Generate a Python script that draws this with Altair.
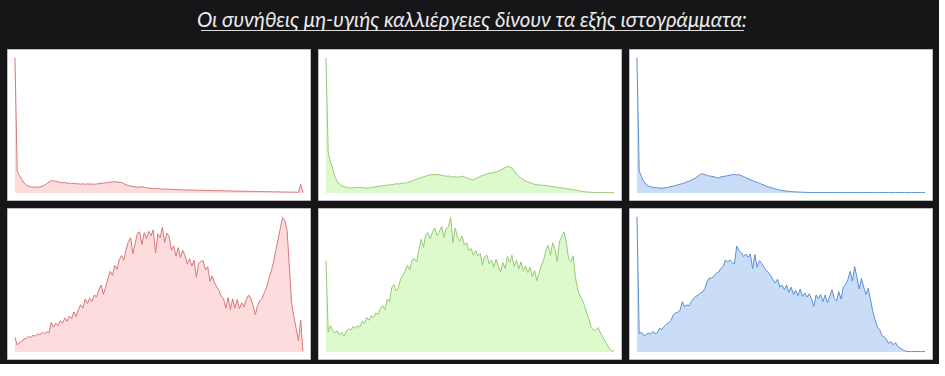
import altair as alt
import pandas as pd

TITLE = "Οι συνήθεις μη-υγιής καλλιέργειες δίνουν τα εξής ιστογράμματα:"

red_top = [100, 16, 13, 10, 7.5, 6, 5, 4.6, 4.4, 4.5,
           4.3, 4.6, 5.0, 5.8, 7.0, 8.2, 9.3, 8.8, 8.9, 8.2,
           8.0, 7.6, 7.9, 7.2, 7.5, 7.0, 7.3, 6.8, 6.9, 6.6,
           6.8, 6.5, 6.9, 6.6, 6.7, 6.5, 6.8, 6.9, 7.2, 7.4,
           7.6, 7.9, 8.0, 8.3, 8.4, 8.2, 8.0, 7.8, 7.0, 6.2,
           5.6, 5.2, 4.9, 4.6, 4.4, 4.3, 4.8, 4.2, 3.9, 3.7,
           3.5, 3.4, 3.3, 3.4, 3.1, 3.0, 2.9, 3.0, 2.8, 2.7,
           2.6, 2.7, 2.5, 2.4, 2.5, 2.3, 2.3, 2.2, 2.3, 2.1,
           2.1, 2.0, 2.1, 2.0, 1.9, 1.9, 2.0, 1.8, 1.8, 1.8,
           1.7, 1.8, 1.7, 1.6, 1.6, 1.7, 1.5, 1.5, 1.5, 1.4,
           1.4, 1.5, 1.3, 1.3, 1.3, 1.2, 1.3, 1.2, 1.1, 1.1,
           1.1, 1.0, 1.1, 1.0, 0.9, 0.9, 1.0, 0.9, 0.8, 0.8,
           0.8, 0.7, 0.8, 0.7, 0.6, 0.6, 6.5, 0.3]

green_top = [100, 30, 23, 18, 12, 8.5, 6.6, 5.4, 4.8, 4.3,
             3.9, 3.8, 3.9, 4.3, 4.1, 4.4, 3.9, 4.0, 3.6, 3.8,
             4.1, 4.4, 4.7, 5.0, 5.2, 5.4, 5.6, 5.9, 6.2, 6.1,
             6.5, 6.9, 6.7, 7.2, 7.5, 7.3, 8.0, 8.3, 8.9, 9.6,
             10.3, 10.8, 11.5, 12.0, 12.6, 13.0, 13.4, 13.7, 13.6, 13.8,
             13.4, 13.2, 12.9, 12.4, 12.7, 12.0, 11.9, 12.2, 11.6, 12.0,
             12.6, 11.9, 11.3, 10.6, 10.0, 9.8, 10.6, 11.4, 12.3, 13.0,
             13.6, 14.2, 14.6, 15.0, 15.1, 15.6, 16.2, 17.0, 17.9, 18.9,
             19.4, 19.6, 18.6, 16.4, 14.2, 12.5, 11.0, 9.9, 9.0, 8.3,
             7.6, 7.0, 6.5, 6.2, 6.0, 5.9, 5.7, 5.6, 5.3, 5.0,
             4.8, 4.6, 4.4, 4.1, 3.8, 3.5, 3.3, 3.0, 2.7, 2.4,
             2.2, 1.9, 1.6, 1.3, 1.0, 0.8, 0.7, 0.6, 0.5, 0.5,
             0.4, 0.4, 0.4, 0.4, 0.4, 0.4, 0.4, 0.3]

blue_top = [100, 16.5, 12, 8.5, 6.5, 5.3, 4.7, 4.3, 4.1, 3.9,
            3.7, 3.6, 3.8, 4.1, 4.3, 4.8, 5.2, 5.6, 6.1, 6.6,
            7.0, 7.6, 8.2, 8.8, 9.6, 10.5, 11.4, 12.8, 13.9, 14.3,
            13.6, 13.1, 12.6, 12.4, 12.0, 11.5, 11.2, 12.0, 12.3, 12.5,
            12.9, 13.2, 13.6, 13.8, 13.4, 13.6, 12.9, 12.2, 11.4, 10.6,
            9.9, 9.3, 8.5, 8.0, 7.3, 6.5, 5.9, 5.1, 4.6, 4.1,
            3.6, 3.1, 2.7, 2.3, 1.9, 1.7, 1.5, 1.3, 1.1, 1.0,
            0.9, 0.8, 0.7, 0.6, 0.6, 0.5, 0.4, 0.5, 0.4, 0.4,
            0.5, 0.4, 0.4, 0.4, 0.5, 0.4, 0.4, 0.4, 0.4, 0.5,
            0.4, 0.4, 0.4, 0.4, 0.4, 0.5, 0.4, 0.4, 0.4, 0.4,
            0.4, 0.4, 0.5, 0.4, 0.4, 0.4, 0.4, 0.4, 0.4, 0.5,
            0.4, 0.4, 0.4, 0.4, 0.4, 0.4, 0.4, 0.5, 0.4, 0.4,
            0.4, 0.4, 0.4, 0.4, 0.5, 0.4, 0.4, 0.4]

red_bottom = [10.9, 5.3, 7.3, 7.8, 9.7, 10.2, 11.7, 10.7, 12.6, 11.7,
              13.6, 12.6, 14.6, 13.6, 15.0, 14.1, 21.8, 18.4, 21.4, 19.4,
              23.3, 21.4, 25.2, 22.8, 26.7, 24.8, 29.6, 26.2, 31.6, 35.0,
              32.5, 39.3, 35.9, 39.8, 37.4, 42.2, 40.8, 46.1, 49.5, 42.7,
              48.1, 54.4, 59.7, 56.8, 64.1, 61.2, 68.4, 71.4, 68.0, 75.7,
              81.6, 84.5, 72.8, 80.1, 87.9, 88.8, 79.6, 88.3, 84.0, 89.3,
              85.9, 90.3, 73.3, 87.4, 84.5, 92.2, 81.1, 87.9, 85.4, 75.2,
              78.6, 70.9, 77.2, 69.9, 75.2, 71.4, 65.0, 68.9, 63.6, 68.0,
              55.3, 65.5, 67.0, 67.5, 60.7, 63.1, 52.4, 56.3, 51.0, 48.1,
              45.6, 41.3, 39.3, 32.5, 40.3, 31.6, 39.3, 32.5, 38.8, 32.0,
              36.4, 33.5, 38.8, 42.2, 39.8, 34.5, 27.7, 34.5, 37.9, 39.8,
              44.2, 48.1, 54.4, 59.7, 66.5, 75.2, 83.0, 91.3, 99.5, 97.1,
              89.8, 63.1, 35.9, 26.2, 17.5, 8.3, 23.8, 0.5]

green_bottom = [67.6, 14.7, 19.6, 15.7, 14.2, 15.7, 12.7, 14.7, 11.8, 15.7,
                17.2, 16.2, 19.1, 17.6, 19.6, 18.6, 23.0, 21.1, 25.5, 23.5,
                27.0, 25.5, 28.9, 27.9, 32.4, 34.3, 31.4, 39.2, 37.3, 47.5,
                50.0, 45.1, 48.0, 54.4, 56.9, 60.3, 64.2, 60.8, 68.1, 69.1,
                66.7, 76.0, 83.3, 77.5, 86.8, 88.2, 83.8, 88.7, 91.7, 86.3,
                88.7, 93.1, 84.8, 91.2, 92.6, 99.5, 80.9, 91.7, 84.8, 81.9,
                85.8, 79.4, 80.9, 75.0, 76.5, 71.6, 75.0, 71.1, 73.0, 64.2,
                70.6, 71.6, 65.2, 68.1, 62.7, 68.6, 63.7, 59.3, 66.2, 61.8,
                70.6, 66.2, 71.6, 63.2, 68.1, 61.3, 66.7, 60.3, 63.7, 58.8,
                62.7, 55.9, 60.3, 52.9, 58.3, 64.2, 68.1, 75.5, 78.9, 71.6,
                80.9, 76.0, 66.7, 81.9, 85.3, 88.7, 80.9, 69.1, 66.7, 71.1,
                55.4, 46.1, 41.7, 38.7, 34.3, 28.9, 24.0, 18.1, 16.2, 16.2,
                18.1, 14.2, 11.3, 8.3, 5.4, 2.5, 0.5, 1.5]

blue_bottom = [100, 13.7, 14.7, 12.3, 12.7, 14.2, 13.2, 15.2, 13.7, 14.2,
               17.6, 16.7, 19.1, 20.6, 21.6, 23.5, 27.5, 28.9, 29.4, 30.9,
               37.3, 33.8, 34.8, 34.3, 37.3, 39.7, 41.2, 42.2, 43.6, 44.6,
               47.1, 52.5, 54.9, 54.4, 56.4, 58.3, 59.3, 61.8, 63.2, 68.1,
               66.7, 68.1, 66.2, 65.2, 78.4, 75.0, 73.5, 70.6, 72.5, 70.1,
               72.5, 61.8, 72.1, 62.7, 67.6, 65.7, 62.7, 60.3, 58.8, 56.4,
               53.4, 51.0, 53.9, 48.0, 49.5, 46.1, 49.5, 44.1, 48.0, 42.6,
               45.6, 41.7, 46.6, 41.2, 43.6, 40.7, 43.1, 39.2, 33.8, 42.2,
               39.7, 42.6, 37.3, 42.2, 36.3, 41.2, 46.1, 39.7, 37.7, 44.6,
               39.2, 48.0, 50.0, 53.4, 59.8, 52.5, 63.2, 55.4, 46.6, 54.4,
               48.0, 42.6, 47.1, 38.7, 29.9, 24.0, 18.6, 16.7, 12.3, 11.3,
               9.3, 6.4, 7.8, 5.4, 6.9, 4.4, 2.9, 2.0, 1.0, 0.5,
               0.5, 0.3, 0.5, 0.4, 0.5, 0.3, 0.5, 0.4]

RED = ("#fcdcdc", "#d9777c")
GREEN = ("#ddfacc", "#98c97a")
BLUE = ("#c9ddf6", "#5c90d2")

PANEL_W = 303
PANEL_H = 151
GAP = 6
BG = "#161618"


def panel(values, colors):
    fill, line = colors
    n = len(values)
    df = pd.DataFrame({"bin": list(range(n)), "count": values})
    return (
        alt.Chart(df)
        .mark_area(color=fill, opacity=1, line={"color": line, "strokeWidth": 1})
        .encode(
            x=alt.X("bin:Q", axis=None, scale=alt.Scale(domain=[-3.5, n - 1 + 3.1], nice=False, zero=False)),
            y=alt.Y("count:Q", axis=None, scale=alt.Scale(domain=[-5.1, 106.5], nice=False)),
        )
        .properties(
            width=PANEL_W,
            height=PANEL_H,
            view=alt.ViewBackground(fill="white", stroke="#bdbdbd", strokeWidth=1),
        )
    )


title_df = pd.DataFrame({"t": [TITLE]})
title_text = (
    alt.Chart(title_df)
    .mark_text(
        font="Lato",
        fontSize=20.5,
        fontStyle="italic",
        color="#ececec",
        align="center",
        baseline="alphabetic",
    )
    .encode(text="t:N", x=alt.value(465), y=alt.value(27))
)
title_rule = (
    alt.Chart(title_df)
    .mark_rule(color="#dcdcdc", strokeWidth=1)
    .encode(x=alt.value(194), x2=alt.value(737), y=alt.value(30.5))
)
title_chart = alt.layer(title_text, title_rule).properties(
    width=3 * PANEL_W + 2 * GAP,
    height=42,
    view=alt.ViewBackground(fill=BG, stroke=BG, strokeWidth=0),
)

row1 = alt.hconcat(panel(red_top, RED), panel(green_top, GREEN), panel(blue_top, BLUE), spacing=GAP)
row2 = alt.hconcat(panel(red_bottom, RED), panel(green_bottom, GREEN), panel(blue_bottom, BLUE), spacing=GAP)

chart = (
    alt.vconcat(title_chart, row1, row2, spacing=GAP)
    .properties(padding={"left": 6, "top": 0, "right": 6, "bottom": 4})
    .configure(background=BG)
)

chart.save("out.html", embed_options={"renderer": "svg", "actions": False})
